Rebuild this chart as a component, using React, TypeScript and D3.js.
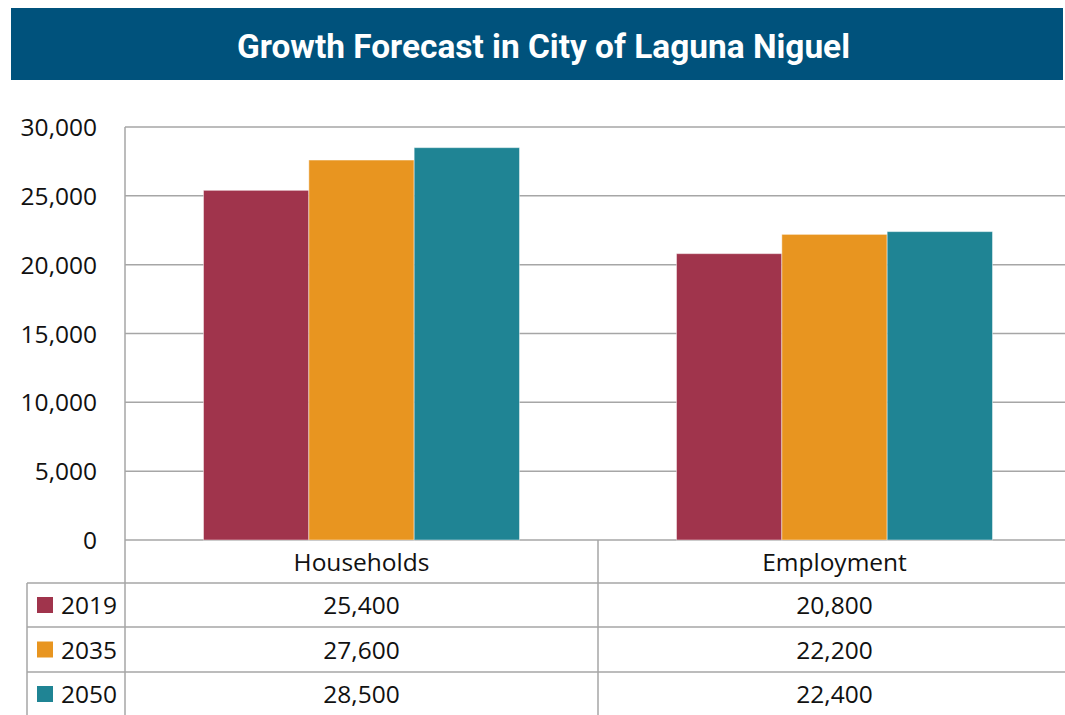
import React from "react";
import * as d3 from "d3";

const title = "Growth Forecast in City of Laguna Niguel";
const categories = ["Households", "Employment"];
const seriesNames = ["2019", "2035", "2050"];
const values2019 = [25400, 20800];
const values2035 = [27600, 22200];
const values2050 = [28500, 22400];
const seriesColors = ["#A0344C", "#E89520", "#1F8494"];
const yTicks = [0, 5000, 10000, 15000, 20000, 25000, 30000];

const W = 1065;
const H = 715;
const FONT = "'Open Sans', 'Noto Sans', sans-serif";
const FS = 24.5;

export default function App() {
  const seriesValues = [values2019, values2035, values2050];
  const plotLeft = 125;
  const plotRight = 1071;
  const y = d3.scaleLinear().domain([0, 30000]).range([540, 127]);
  const x0 = d3.scaleBand<string>().domain(categories).range([plotLeft, plotRight]).padding(0);
  const bw = x0.bandwidth();
  const groupW = 316;
  const x1 = d3
    .scaleBand<string>()
    .domain(seriesNames)
    .range([(bw - groupW) / 2, (bw + groupW) / 2])
    .padding(0);
  const fmt = d3.format(",");
  const gridColor = "#A6A6A6";

  const rowLines = [583, 627, 672];
  const rowCenters = [605, 649.5, 694];
  const headerY = 562;

  return (
    <svg
      width={W}
      height={H}
      style={{ position: "absolute", left: 0, top: 0, background: "#fff" }}
      fontFamily={FONT}
    >
      <rect x={0} y={0} width={W} height={H} fill="#fff" />
      {/* Title bar */}
      <rect x={11} y={8} width={1052} height={72} fill="#00527C" />
      <text
        x={543.5}
        y={58}
        textAnchor="middle"
        fill="#fff"
        fontFamily="Roboto, sans-serif"
        fontWeight={700}
        fontSize={33}
        textLength={613}
        lengthAdjust="spacingAndGlyphs"
      >
        {title}
      </text>

      {/* gridlines */}
      {yTicks.map((t) => (
        <line
          key={"g" + t}
          x1={plotLeft}
          x2={W}
          y1={y(t)}
          y2={y(t)}
          stroke={gridColor}
          strokeWidth={1.5}
        />
      ))}
      {/* y tick labels */}
      {yTicks.map((t) => (
        <text
          key={"t" + t}
          x={97}
          y={y(t) + 9}
          textAnchor="end"
          fontSize={FS}
          fill="#111"
        >
          {fmt(t)}
        </text>
      ))}

      {/* bars */}
      {categories.map((c, ci) => (
        <g key={c} transform={`translate(${x0(c)},0)`}>
          {seriesNames.map((s, si) => {
            const v = seriesValues[si][ci];
            return (
              <rect
                key={s}
                x={x1(s)}
                y={y(v)}
                width={x1.bandwidth()}
                height={y(0) - y(v)}
                fill={seriesColors[si]}
                stroke="rgba(255,255,255,0.45)"
                strokeWidth={1}
              />
            );
          })}
        </g>
      ))}

      {/* left axis / table vertical lines */}
      <line x1={plotLeft} x2={plotLeft} y1={127} y2={H} stroke={gridColor} strokeWidth={1.5} />
      <line x1={27} x2={27} y1={583} y2={H} stroke={gridColor} strokeWidth={1.5} />
      <line x1={x0(categories[1])} x2={x0(categories[1])} y1={540} y2={H} stroke={gridColor} strokeWidth={1.5} />
      {rowLines.map((ry) => (
        <line key={"r" + ry} x1={27} x2={W} y1={ry} y2={ry} stroke={gridColor} strokeWidth={1.5} />
      ))}

      {/* table header */}
      {categories.map((c) => (
        <text
          key={"h" + c}
          x={(x0(c) as number) + bw / 2}
          y={headerY + 9}
          textAnchor="middle"
          fontSize={FS}
          fill="#111"
        >
          {c}
        </text>
      ))}
      {/* table rows */}
      {seriesNames.map((s, si) => (
        <g key={"row" + s}>
          <rect x={37} y={rowCenters[si] - 8} width={16} height={16} fill={seriesColors[si]} />
          <text x={61} y={rowCenters[si] + 9} fontSize={FS} fill="#111">
            {s}
          </text>
          {categories.map((c, ci) => (
            <text
              key={c}
              x={(x0(c) as number) + bw / 2}
              y={rowCenters[si] + 9}
              textAnchor="middle"
              fontSize={FS}
              fill="#111"
            >
              {fmt(seriesValues[si][ci])}
            </text>
          ))}
        </g>
      ))}
    </svg>
  );
}
